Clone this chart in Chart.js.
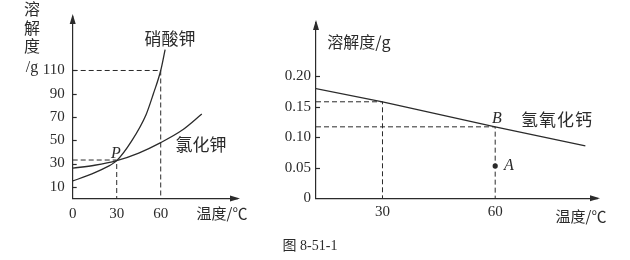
<!DOCTYPE html>
<html lang="zh">
<head>
<meta charset="UTF-8">
<title>溶解度曲线 图 8-51-1</title>
<script src="https://cdn.jsdelivr.net/npm/chart.js"></script>
<style>
    html, body { margin: 0; padding: 0; background: #fff; }
    #page { position: relative; width: 630px; height: 260px; overflow: hidden; color: #2b2b2b; }
    canvas { position: absolute; top: 0; }
    .t { position: absolute; transform: translate(-50%, -50%); white-space: nowrap; line-height: 1; }
    .cjk { font-family: "Noto Sans CJK SC", sans-serif; font-size: 16px; }
    .it { font-family: "Liberation Serif", serif; font-style: italic; font-size: 16px; }
    .sf { font-family: "Liberation Serif", serif; }
</style>
</head>
<body>
<div id="page">
    <canvas id="left" width="250" height="225" style="left:0"></canvas>
    <canvas id="right" width="370" height="225" style="left:260px"></canvas>

    <!-- left chart texts -->
    <div class="t cjk" style="left:32px;top:8px">溶</div>
    <div class="t cjk" style="left:32px;top:27px">解</div>
    <div class="t cjk" style="left:32px;top:45px">度</div>
    <div class="t sf" style="left:32px;top:67px;font-size:16px">/g</div>
    <div class="t cjk" style="left:170px;top:37px;font-size:17px">硝酸钾</div>
    <div class="t cjk" style="left:201px;top:143px;font-size:17px">氯化钾</div>
    <div class="t it" style="left:116px;top:153px">P</div>
    <div class="t cjk" style="left:222px;top:212px;font-size:15px">温度/℃</div>

    <!-- right chart texts -->
    <div class="t cjk" style="left:359px;top:41px">溶解度/g</div>
    <div class="t cjk" style="left:557px;top:118px;font-size:17px;letter-spacing:1px">氢氧化钙</div>
    <div class="t it" style="left:497px;top:118px">B</div>
    <div class="t it" style="left:509px;top:165px">A</div>
    <div class="t cjk" style="left:581px;top:215px;font-size:15px">温度/℃</div>

    <div class="t" style="left:310px;top:245px;font-size:14px"><span class="cjk" style="font-size:14px">图</span> <span class="sf">8-51-1</span></div>
</div>

<script>
    // ---- left chart: 硝酸钾 / 氯化钾 ----
    const kno3Temps = [0, 10, 20, 30, 40, 50, 55, 60, 63];
    const kno3Sol = [15, 19.5, 25, 32.5, 49, 72, 90, 110, 128];
    const kclTemps = [0, 15, 30, 45, 60, 75, 88];
    const kclSol = [26, 28.5, 32.5, 39, 48, 59, 72.5];
    const leftXTicks = [0, 30, 60];
    const leftYTicks = [10, 30, 50, 70, 90, 110];
    const pointP = { t: 30, s: 33 };
    const kno3At60 = { t: 60, s: 110 };

    // ---- right chart: 氢氧化钙 ----
    const caTemps = [12, 30, 60, 84];
    const caSol = [0.180, 0.158, 0.117, 0.086];
    const rightXTicks = [30, 60];
    const rightYTicks = [0, 0.05, 0.10, 0.15, 0.20];
    const at30 = { t: 30, s: 0.158 };
    const pointB = { t: 60, s: 0.117 };
    const pointA = { t: 60, s: 0.053 };

    const ink = '#2b2b2b';
    const tickFont = { family: '"Liberation Serif", serif', size: 15 };

    const pts = (xs, ys) => xs.map((x, i) => ({ x: x, y: ys[i] }));

    // axis arrows + short inner ticks on the y axis
    const axisArrows = {
        id: 'axisArrows',
        afterDraw(chart) {
            const { ctx, chartArea: a } = chart;
            const ys = chart.scales.y;
            ctx.save();
            ctx.fillStyle = ink;
            ctx.strokeStyle = ink;
            ctx.lineWidth = 1.2;
            // y arrow
            ctx.beginPath();
            ctx.moveTo(a.left, a.top - 3);
            ctx.lineTo(a.left - 3, a.top + 7);
            ctx.lineTo(a.left + 3, a.top + 7);
            ctx.closePath();
            ctx.fill();
            // x arrow
            ctx.beginPath();
            ctx.moveTo(a.right + 3, a.bottom);
            ctx.lineTo(a.right - 7, a.bottom - 3);
            ctx.lineTo(a.right - 7, a.bottom + 3);
            ctx.closePath();
            ctx.fill();
            // inner ticks
            ys.ticks.forEach(t => {
                if (t.value === 0) return;
                const py = Math.round(ys.getPixelForValue(t.value)) + 0.5;
                ctx.beginPath();
                ctx.moveTo(a.left, py);
                ctx.lineTo(a.left + 4, py);
                ctx.stroke();
            });
            ctx.restore();
        }
    };

    function axis(min, max, ticks, size, pad, fmt, horizontal) {
        return {
            type: 'linear',
            min: min,
            max: max,
            grid: { display: false, drawTicks: false },
            border: { display: true, color: ink, width: 1.2 },
            ticks: {
                color: ink,
                font: tickFont,
                padding: pad,
                autoSkip: false,
                maxRotation: 0,
                callback: fmt
            },
            afterBuildTicks: s => { s.ticks = ticks.map(v => ({ value: v })); },
            afterFit: s => { if (horizontal) s.height = size; else s.width = size; }
        };
    }

    const curve = (data, extra) => Object.assign({
        data: data,
        borderColor: ink,
        borderWidth: 1.3,
        pointRadius: 0,
        fill: false
    }, extra || {});

    const dashed = data => ({
        data: data,
        borderColor: ink,
        borderWidth: 1,
        borderDash: [5, 3],
        pointRadius: 0,
        fill: false,
        tension: 0
    });

    const baseOpts = {
        responsive: false,
        animation: false,
        events: [],
        plugins: { legend: { display: false }, tooltip: { enabled: false } }
    };

    new Chart(document.getElementById('left'), {
        type: 'line',
        data: {
            datasets: [
                curve(pts(kno3Temps, kno3Sol), { cubicInterpolationMode: 'monotone' }),
                curve(pts(kclTemps, kclSol), { cubicInterpolationMode: 'monotone' }),
                dashed([{ x: 0, y: kno3At60.s }, { x: kno3At60.t, y: kno3At60.s }, { x: kno3At60.t, y: 0 }]),
                dashed([{ x: 0, y: pointP.s }, { x: pointP.t, y: pointP.s }, { x: pointP.t, y: 0 }])
            ]
        },
        options: Object.assign({}, baseOpts, {
            layout: { padding: { left: 0, top: 15, right: 13, bottom: 0 } },
            scales: {
                x: axis(0, 112, leftXTicks, 26.6, 7, v => String(v), true),
                y: axis(0, 156, leftYTicks, 72.7, 8, v => String(v), false)
            }
        }),
        plugins: [axisArrows]
    });

    new Chart(document.getElementById('right'), {
        type: 'line',
        data: {
            datasets: [
                curve(pts(caTemps, caSol), { tension: 0 }),
                dashed([{ x: 12.3, y: at30.s }, { x: at30.t, y: at30.s }, { x: at30.t, y: 0 }]),
                dashed([{ x: 12.3, y: pointB.s }, { x: pointB.t, y: pointB.s }, { x: pointB.t, y: 0 }]),
                {
                    data: [{ x: pointA.t, y: pointA.s }],
                    showLine: false,
                    pointRadius: 2.6,
                    pointBackgroundColor: ink,
                    pointBorderWidth: 0
                }
            ]
        },
        options: Object.assign({}, baseOpts, {
            layout: { padding: { left: 0, top: 23, right: 33, bottom: 0 } },
            scales: {
                x: axis(12.3, 87.1, rightXTicks, 26.7, 5, v => String(v), true),
                y: axis(0, 0.287, rightYTicks, 56, 5, v => v === 0 ? '0' : v.toFixed(2), false)
            }
        }),
        plugins: [axisArrows]
    });
</script>
</body>
</html>
